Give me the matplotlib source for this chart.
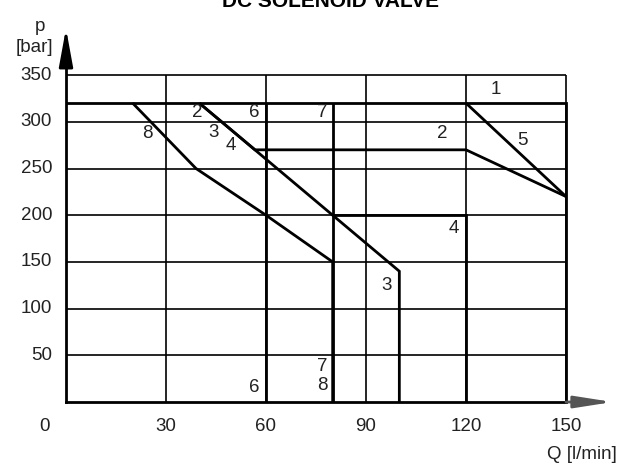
import matplotlib.pyplot as plt
import numpy as np

plt.rcParams['font.family'] = ['Liberation Sans', 'DejaVu Sans']

# grid values
x_grid = [30, 60, 90, 120, 150]
y_grid = [50, 100, 150, 200, 250, 300, 350]
x_ticks = [0, 30, 60, 90, 120, 150]
y_ticks = [50, 100, 150, 200, 250, 300, 350]

# characteristic curves (Q [l/min], p [bar])
curve_1 = ([0, 150, 150], [320, 320, 0])
curve_2 = ([40, 56.7, 120, 150], [320, 270, 270, 220])
curve_3 = ([40, 80, 97, 100, 100], [320, 200, 149, 140, 0])
curve_4 = ([80, 120, 120], [200, 200, 0])
curve_5 = ([120, 150], [320, 220])
curve_6 = ([60, 60], [320, 0])
curve_7 = ([80, 80], [320, 0])
curve_8 = ([20, 39, 60, 80, 80], [320, 250, 200, 150, 0])
curves = [curve_1, curve_2, curve_3, curve_4, curve_5, curve_6, curve_7, curve_8]

# curve labels
label_text = ['1', '5', '2', '2', '6', '7', '8', '3', '4', '4', '3', '7', '8', '6']
label_q = [129, 136.8, 112.8, 39.3, 56.4, 76.8, 24.3, 44.4, 49.5, 116.4, 96.3, 76.8, 76.8, 56.4]
label_p = [335, 280, 287, 310, 310, 310, 288, 289, 275, 186, 125, 38, 18, 16]

fig = plt.figure(figsize=(6.2, 4.66), dpi=100)
ax = fig.add_axes([0, 0, 1, 1])
ax.set_axis_off()
ax.set_xlim(-19.8, 166.2)
ax.set_ylim(-68.5, 430.4)

for x in x_grid:
    ax.plot([x, x], [0, 350], color='black', lw=1.2, solid_capstyle='butt')
for y in y_grid:
    ax.plot([0, 150], [y, y], color='black', lw=1.2, solid_capstyle='butt')

for q, p in curves:
    ax.plot(q, p, color='black', lw=2.0, solid_joinstyle='miter', solid_capstyle='butt')

# axes with arrows
ax.plot([0, 0], [0, 370], color='black', lw=2.0)
ax.annotate('', xy=(0, 400), xytext=(0, 362),
            arrowprops=dict(arrowstyle='-|>,head_length=2.3,head_width=0.42',
                            color='black', lw=2.0, shrinkA=0, shrinkB=0))
ax.plot([0, 150], [0, 0], color='black', lw=2.0)
ax.annotate('', xy=(164, 0), xytext=(150, 0),
            arrowprops=dict(arrowstyle='-|>,head_length=2.3,head_width=0.36',
                            color='#555555', lw=2.0, shrinkA=0, shrinkB=0))

for t, q, p in zip(label_text, label_q, label_p):
    ax.text(q, p, t, fontsize=13.5, ha='center', va='center', color='#222222')

for y in y_ticks:
    ax.text(-4.2, y, str(y), fontsize=13.5, ha='right', va='center', color='#222222')
for x in x_ticks:
    xpos = -6.3 if x == 0 else x
    ax.text(xpos, -25.7, str(x), fontsize=13.5, ha='center', va='center', color='#222222')

ax.text(-7.8, 397, 'p', fontsize=13.5, ha='center', va='baseline', color='#222222')
ax.text(-3.9, 380, '[bar]', fontsize=13.5, ha='right', va='center', color='#222222')
ax.text(165.3, -55.7, 'Q [l/min]', fontsize=13.5, ha='right', va='center', color='#222222')
ax.text(79.2, 423, 'DC SOLENOID VALVE', fontsize=15, fontweight='bold',
        ha='center', va='baseline')

fig.savefig('out.png', dpi=100)
